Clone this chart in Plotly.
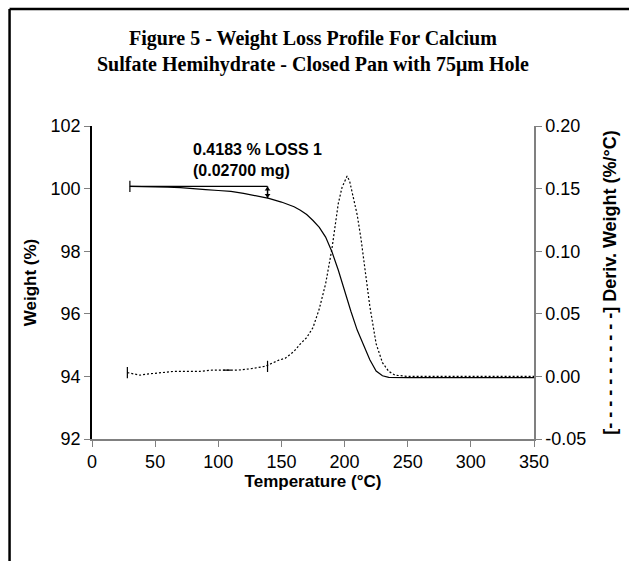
import plotly.graph_objects as go

# ---- data ----
temp_w = [30, 40, 50, 60, 70, 80, 90, 100, 110, 120, 130, 140, 150, 155, 160, 165, 170, 175,
          180, 185, 190, 195, 200, 205, 210, 215, 220, 225, 230, 235, 240, 250, 270, 300, 330, 350]
weight = [100.07, 100.07, 100.06, 100.05, 100.03, 100.01, 99.97, 99.94, 99.91, 99.85, 99.78, 99.69,
          99.57, 99.50, 99.42, 99.31, 99.17, 98.98, 98.76, 98.45, 97.98, 97.40, 96.72, 96.08, 95.48,
          94.98, 94.53, 94.17, 94.02, 93.97, 93.96, 93.96, 93.96, 93.96, 93.96, 93.96]

temp_d = [28, 33, 38, 45, 55, 65, 75, 85, 95, 106, 115, 125, 137, 148, 153, 160, 165, 170, 175,
          180, 185, 190, 195, 198, 201, 202, 204, 207, 210, 213, 216, 220, 225, 230, 235, 240, 250,
          270, 300, 350]
deriv = [0.003, 0.002, 0.001, 0.002, 0.003, 0.004, 0.004, 0.004, 0.005, 0.005, 0.005, 0.006, 0.008,
         0.013, 0.0145, 0.020, 0.026, 0.031, 0.039, 0.054, 0.074, 0.102, 0.138, 0.151, 0.159, 0.160,
         0.156, 0.143, 0.129, 0.110, 0.085, 0.056, 0.026, 0.011, 0.004, 0.001, 0.0, 0.0, 0.0, 0.0]

loss_start_t = 30
loss_end_t = 139
loss_top = 100.07
loss_bottom = 99.70
loss_label = "0.4183 % LOSS 1<br>(0.02700 mg)"

x_ticks = [0, 50, 100, 150, 200, 250, 300, 350]
y_ticks = [92, 94, 96, 98, 100, 102]
y2_ticks = [-0.05, 0.0, 0.05, 0.10, 0.15, 0.20]
y2_labels = ["-0.05", "0.00", "0.05", "0.10", "0.15", "0.20"]

title_text = ("Figure 5 - Weight Loss Profile For Calcium<br>"
              "Sulfate Hemihydrate - Closed Pan with 75\u03bcm Hole")

SANS = "Liberation Sans, Arial, sans-serif"
SERIF = "Liberation Serif, Times New Roman, serif"

fig = go.Figure()

fig.add_trace(go.Scatter(x=temp_w, y=weight, mode="lines",
                         line=dict(color="black", width=1.2), showlegend=False, hoverinfo="skip"))
fig.add_trace(go.Scatter(x=temp_d, y=deriv, mode="lines", yaxis="y2",
                         line=dict(color="black", width=1.2, dash="2px,2px"),
                         showlegend=False, hoverinfo="skip"))

# loss bracket
fig.add_trace(go.Scatter(x=[loss_start_t, loss_end_t], y=[loss_top, loss_top], mode="lines",
                         line=dict(color="black", width=1.2), showlegend=False, hoverinfo="skip"))
fig.add_trace(go.Scatter(x=[loss_start_t], y=[loss_top], mode="markers",
                         marker=dict(symbol="line-ns", size=8, line=dict(color="black", width=1.2)),
                         showlegend=False, hoverinfo="skip"))
fig.add_trace(go.Scatter(x=[loss_end_t, loss_end_t], y=[loss_top, loss_bottom], mode="lines",
                         line=dict(color="black", width=1.5), showlegend=False, hoverinfo="skip"))
fig.add_trace(go.Scatter(x=[loss_end_t, loss_end_t], y=[loss_top - 0.09, loss_bottom + 0.09],
                         mode="markers",
                         marker=dict(symbol=["triangle-up", "triangle-down"], size=5, color="black"),
                         showlegend=False, hoverinfo="skip"))
# markers on derivative curve
fig.add_trace(go.Scatter(x=[28, 139], y=[0.003, 0.008], mode="markers", yaxis="y2",
                         marker=dict(symbol="line-ns", size=8, line=dict(color="black", width=1.2)),
                         showlegend=False, hoverinfo="skip"))
fig.add_trace(go.Scatter(x=[104, 110], y=[0.005, 0.005], mode="lines", yaxis="y2",
                         line=dict(color="black", width=1.2), showlegend=False, hoverinfo="skip"))

fig.add_annotation(text=loss_label, x=78, y=100.9, xref="x", yref="y",
                   xanchor="left", yanchor="middle", align="left", showarrow=False,
                   font=dict(family=SANS, size=16, color="black", weight="bold"))

axis_font = dict(family=SANS, size=18, color="black")
title_font = dict(family=SANS, size=17, color="black", weight="bold")

fig.update_layout(
    width=629, height=561,
    margin=dict(l=92, r=92, t=126, b=122),
    paper_bgcolor="white", plot_bgcolor="white",
    xaxis=dict(range=[0, 350], tickvals=x_ticks, showgrid=False, zeroline=False,
               showline=True, linecolor="#808080", linewidth=1.5, ticks="outside",
               ticklen=6, tickcolor="#808080", tickfont=axis_font,
               title=dict(text="Temperature (\u00b0C)", font=title_font, standoff=0)),
    yaxis=dict(range=[92, 102], tickvals=y_ticks, showgrid=False, zeroline=False,
               showline=True, linecolor="black", linewidth=1.5, ticks="outside",
               ticklen=6, tickcolor="#808080", tickfont=axis_font,
               title=dict(text="Weight (%)", font=title_font, standoff=10)),
    yaxis2=dict(range=[-0.05, 0.20], tickvals=y2_ticks, ticktext=y2_labels, overlaying="y",
                side="right", showgrid=False, zeroline=False, showline=True,
                linecolor="#808080", linewidth=1.5, ticks="outside", ticklen=6,
                tickcolor="#808080", tickfont=axis_font,
                title=dict(text="[- - - - - - - - - - -] Deriv. Weight (%/\u00b0C)",
                           font=dict(family=SANS, size=18, color="black", weight="bold"),
                           standoff=18)),
)

fig.add_annotation(text=title_text, xref="paper", yref="paper", x=0.5, y=(439 - 51) / 313,
                   xanchor="center", yanchor="middle", showarrow=False, align="center",
                   font=dict(family=SERIF, size=20, color="black", weight="bold"))

# outer frame (clipped at right and bottom edges)
fx = (9 - 92) / 445
fy = (439 - 9) / 313
fig.add_shape(type="line", xref="paper", yref="paper", x0=fx, x1=fx, y0=-0.5, y1=fy,
              line=dict(color="black", width=2.5))
fig.add_shape(type="line", xref="paper", yref="paper", x0=fx, x1=1.3, y0=fy, y1=fy,
              line=dict(color="black", width=2.5))

fig.write_html("out.html", config={"displayModeBar": False},
               post_script="document.body.style.margin='0';document.body.style.overflow='hidden';")
